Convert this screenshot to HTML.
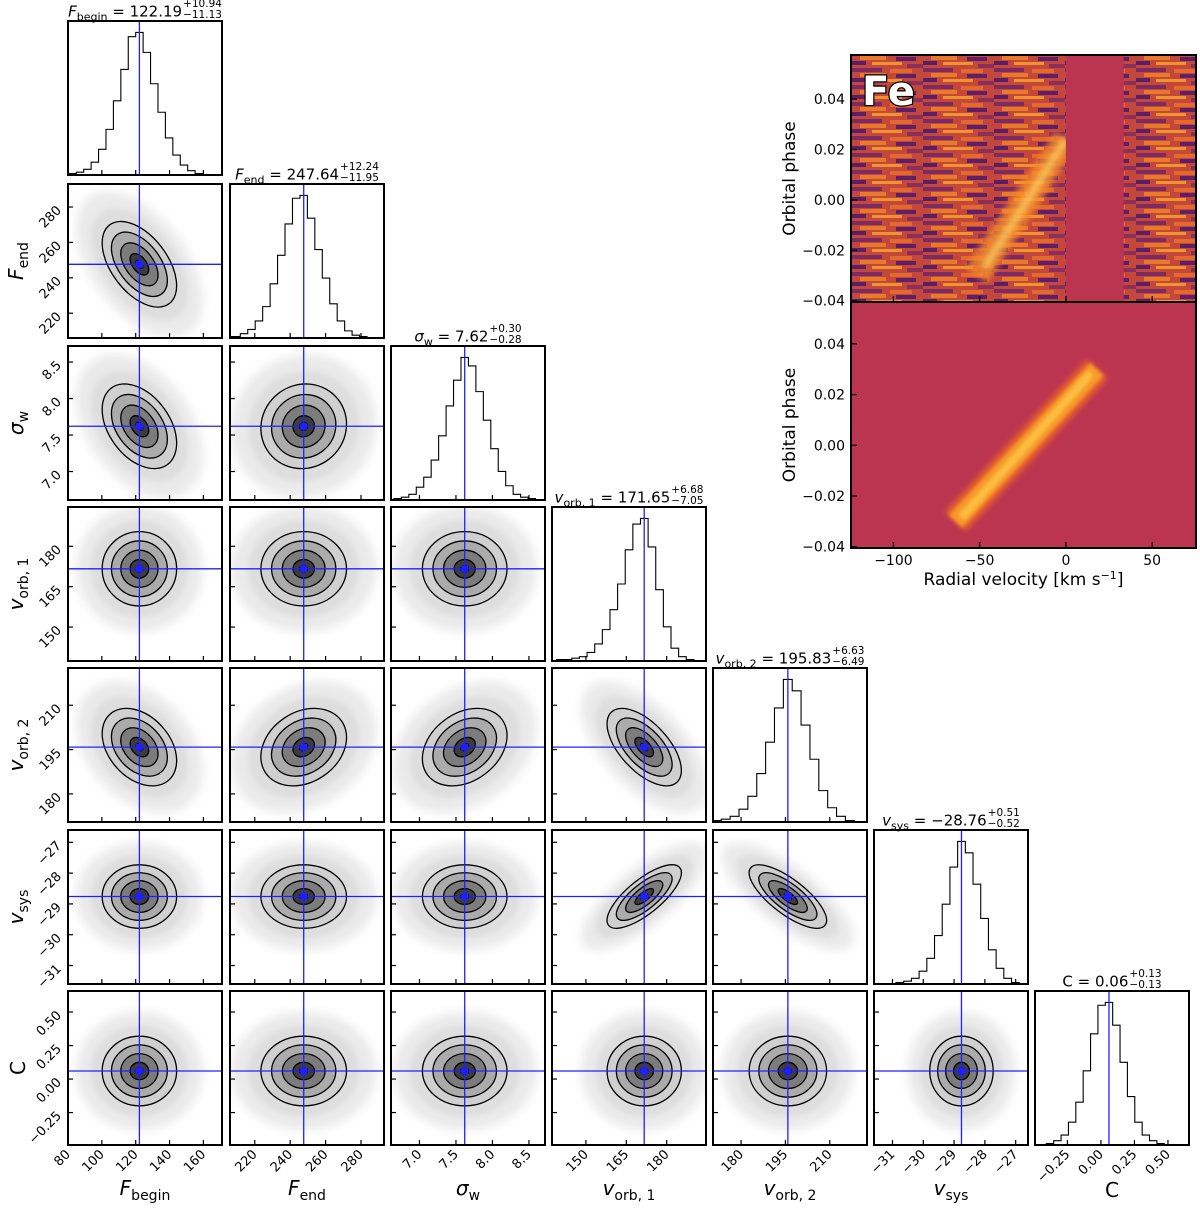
<!DOCTYPE html>
<html><head><meta charset="utf-8">
<style>
body{margin:0;background:#fff;}
#wrap{position:relative;width:1200px;height:1215px;overflow:hidden;font-family:"DejaVu Sans","Liberation Sans",sans-serif;color:#000;}
svg{position:absolute;left:0;top:0;}
.t{position:absolute;white-space:nowrap;font-size:15px;transform:translateX(-50%);line-height:1;}
.ss{display:inline-flex;flex-direction:column;vertical-align:middle;font-size:10.5px;line-height:1.05;margin-left:1px;position:relative;top:-2px;}
.lab{position:absolute;white-space:nowrap;font-size:20px;transform:translate(-50%,-50%);}
.lab sub{font-size:14px;font-style:normal;}
.t sub{font-size:11px;}
</style></head><body>
<div id="wrap">
<svg id="s" width="1200" height="1215"></svg>
</div>
<script>
// ---- data ----
const params=['Fbegin','Fend','sigma_w','v_orb1','v_orb2','v_sys','C'];
const means=[122.19,247.64,7.62,171.65,195.83,-28.76,0.06];
const sds=[11.0,12.1,0.29,6.9,6.55,0.515,0.13];
const lo=[80,206,6.61,137.4,170.5,-31.6,-0.492];
const hi=[171,293,8.72,194.6,222.6,-26.6,0.657];
const ticks=[[80,100,120,140,160],[220,240,260,280],[7.0,7.5,8.0,8.5],[150,165,180],[180,195,210],[-31,-30,-29,-28,-27],[-0.25,0.00,0.25,0.50]];
const tickLabels=[["80","100","120","140","160"],["220","240","260","280"],["7.0","7.5","8.0","8.5"],["150","165","180"],["180","195","210"],["\u221231","\u221230","\u221229","\u221228","\u221227"],["\u22120.25","0.00","0.25","0.50"]];
const corr=[[],[-0.5],[-0.4,0.05],[0.0,0.0,0.0],[-0.35,0.25,0.3,-0.6],[0.0,0.0,0.0,0.75,-0.75],[0,0,0,0,0,0]];
const histLo=[80.5,203.4,6.65,139.1,170.3,-30.885,-0.4075];
const histHi=[159.5,283.4,8.59,190.1,218.3,-26.885,0.4725];
const hFb=[1,2,4,9,18,32,52,74,97,100,86,64,44,26,14,7,3,1];
const hFe=[1,1,3,6,12,22,38,58,80,98,100,84,62,42,24,12,5,2,1];
const hSw=[1,2,4,9,16,28,45,66,84,100,94,76,56,36,20,10,4,2,1];
const hV1=[1,1,2,3,6,12,22,36,54,78,96,100,80,50,24,9,3,1];
const hV2=[1,2,4,9,18,34,56,80,100,92,68,44,22,10,4,1];
const hVs=[1,2,4,9,18,34,56,82,100,92,70,46,24,11,4,1];
const hC=[1,3,7,16,30,52,78,98,100,84,58,34,16,7,3,1];
const hists=[hFb,hFe,hSw,hV1,hV2,hVs,hC];
const plus=["10.94","12.24","0.30","6.68","6.63","0.51","0.13"];
const minus=["11.13","11.95","0.28","7.05","6.49","0.52","0.13"];
const modelV=[-64,18];const modelP=[-0.030,0.030];
const obsV=[-52,0];const obsP=[-0.030,0.024];
const velTicks=[-100,-50,0,50];const phaseTicks=[0.04,0.02,0.00,-0.02,-0.04];
const phaseLabels=["0.04","0.02","0.00","\u22120.02","\u22120.04"];
const maskV=[0,33.5];
// ---- layout ----
const colX=[68,230,391,552,713,874,1035],rowY=[21,184,346,507,668,830,991],S=154;
const NS='http://www.w3.org/2000/svg';
const FF='DejaVu Sans, Liberation Sans, sans-serif';
const svg=document.getElementById('s');const wrap=document.getElementById('wrap');
function el(t,a,p){const e=document.createElementNS(NS,t);for(const k in a)e.setAttribute(k,a[k]);(p||svg).appendChild(e);return e;}
const defs=el('defs',{});
const bl=el('filter',{id:'blur',x:'-50%',y:'-50%',width:'200%',height:'200%'},defs);el('feGaussianBlur',{stdDeviation:'3'},bl);
const bl2=el('filter',{id:'blur2',x:'-50%',y:'-50%',width:'200%',height:'200%'},defs);el('feGaussianBlur',{stdDeviation:'5'},bl2);
const bl1=el('filter',{id:'blur1',x:'-50%',y:'-50%',width:'200%',height:'200%'},defs);el('feGaussianBlur',{stdDeviation:'1.5'},bl1);
function sx(i,c,v){return colX[c]+(v-lo[i])/(hi[i]-lo[i])*S;}
function sy(i,r,v){return rowY[r]+S-(v-lo[i])/(hi[i]-lo[i])*S;}
function html(cls,x,y,h,name){const d=document.createElement('div');d.className=cls;d.style.left=x+'px';d.style.top=y+'px';d.innerHTML=h;


wrap.appendChild(d);return d;}
const sym=['<i>F</i><sub>begin</sub>','<i>F</i><sub>end</sub>','<i>σ</i><sub>w</sub>','<i>v</i><sub>orb, 1</sub>','<i>v</i><sub>orb, 2</sub>','<i>v</i><sub>sys</sub>','C'];
for(let r=0;r<7;r++){for(let c=0;c<=r;c++){
  const g=el('g',{});
  
  
  const cp=el('clipPath',{id:'cp'+r+'_'+c},defs);el('rect',{x:colX[c],y:rowY[r],width:S,height:S},cp);
  const inner=el('g',{'clip-path':'url(#cp'+r+'_'+c+')'},g);
  if(r===c){
    const h=hists[r],n=h.length,mx=Math.max(...h)*1.08;
    let d='';for(let k=0;k<n;k++){const x0=sx(r,c,histLo[r]+(histHi[r]-histLo[r])*k/n),x1=sx(r,c,histLo[r]+(histHi[r]-histLo[r])*(k+1)/n);const y=rowY[r]+S-h[k]/mx*S;d+=(k===0?'M'+x0+','+(rowY[r]+S)+'L'+x0+','+y:'L'+x0+','+y)+'L'+x1+','+y;if(k===n-1)d+='L'+x1+','+(rowY[r]+S);}
    const p=el('path',{d:d,fill:'none',stroke:'#000','stroke-width':1.1},inner);
    
    
    const mx_=sx(r,c,means[r]);el('line',{x1:mx_,x2:mx_,y1:rowY[r],y2:rowY[r]+S,stroke:'#2020ff','stroke-width':1.3},inner);
  } else {
    const cx=sx(c,c,means[c]),cy=sy(r,r,means[r]);
    const px=sds[c]/(hi[c]-lo[c])*S,py=sds[r]/(hi[r]-lo[r])*S,rho=corr[r][c];
    const a=px*px,cc=py*py,b=-rho*px*py;
    const th=0.5*Math.atan2(2*b,a-cc)*180/Math.PI;
    const m=(a+cc)/2,dd=Math.sqrt(((a-cc)/2)**2+b*b);
    const l1=Math.sqrt(m+dd),l2=Math.sqrt(Math.max(m-dd,1e-6));
    const E=(rr,at)=>{at.cx=cx;at.cy=cy;at.rx=rr*l1;at.ry=rr*l2;at.transform='rotate('+th+' '+cx+' '+cy+')';return el('ellipse',at,inner);};
    E(3.4,{fill:'#eaeaea',filter:'url(#blur2)'});
    E(2.6,{fill:'#dedede',filter:'url(#blur)'});
    E(2,{fill:'#d0d0d0'});E(1.5,{fill:'#ababab'});E(1,{fill:'#7c7c7c'});E(0.5,{fill:'#3c3c3c'});
    E(0.22,{fill:'#000'});
    for(const rr of [0.5,1,1.5,2])E(rr,{fill:'none',stroke:'#000','stroke-width':1.3});
    el('line',{x1:cx,x2:cx,y1:rowY[r],y2:rowY[r]+S,stroke:'#2020ff','stroke-width':1.3},inner);
    el('line',{x1:colX[c],x2:colX[c]+S,y1:cy,y2:cy,stroke:'#2020ff','stroke-width':1.3},inner);
    el('rect',{x:cx-3.5,y:cy-3.5,width:7,height:7,fill:'#2020ff'},inner);
  }
  el('rect',{x:colX[c],y:rowY[r],width:S,height:S,fill:'none',stroke:'#000','stroke-width':2},g);
  ticks[c].forEach((t,k)=>{const x=sx(c,c,t);if(x<colX[c]-0.5||x>colX[c]+S+0.5)return;el('line',{x1:x,x2:x,y1:rowY[r]+S,y2:rowY[r]+S-5,stroke:'#000','stroke-width':1.2},g);
    if(r===6){const tx=el('text',{x:x+3,y:rowY[r]+S+10,'font-size':13,'text-anchor':'end',transform:'rotate(-45 '+(x+3)+' '+(rowY[r]+S+10)+')','font-family':FF},g);tx.textContent=tickLabels[c][k];
      
      }});
  if(r!==c){ticks[r].forEach((t,k)=>{const y=sy(r,r,t);if(y<rowY[r]-0.5||y>rowY[r]+S+0.5)return;el('line',{x1:colX[c],x2:colX[c]+5,y1:y,y2:y,stroke:'#000','stroke-width':1.2},g);
    if(c===0){const tx=el('text',{x:colX[0]-6,y:y+4,'font-size':13,'text-anchor':'end',transform:'rotate(-45 '+(colX[0]-6)+' '+(y+4)+')','font-family':FF},g);tx.textContent=tickLabels[r][k];
      
      }});}
}}
const titleVal=["122.19","247.64","7.62","171.65","195.83","\u221228.76","0.06"];
for(let i=0;i<7;i++){
  html('t',colX[i]+S/2,rowY[i]-20,sym[i]+' = '+titleVal[i]+'<span class="ss"><span>+'+plus[i]+'</span><span>\u2212'+minus[i]+'</span></span>','title-'+params[i]);
  html('lab',colX[i]+S/2,1190,sym[i],'x-axis-title-'+params[i]);
  if(i>0){const d=html('lab',18,rowY[i]+S/2,sym[i],'y-axis-title-'+params[i]);d.style.transform='translate(-50%,-50%) rotate(-90deg)';}
}
// ---- Fe panels ----
const HX0=851,HX1=1196,TY0=55,TY1=302,BY0=302,BY1=548;
const vlo=-124.6,vhi=75.4,pTopHi=0.0575,pBotHi=0.0565,plo=-0.0405;
const vx=v=>HX0+(v-vlo)/(vhi-vlo)*(HX1-HX0);
const tpy=p=>TY0+(pTopHi-p)/(pTopHi-plo)*(TY1-TY0);
const bpy=p=>BY0+(pBotHi-p)/(pBotHi-plo)*(BY1-BY0);
const pat=el('pattern',{id:'noise',width:71,height:17,patternUnits:'userSpaceOnUse'},defs);
el('rect',{width:71,height:17,fill:'#c4473c'},pat);
el('rect',{x:0,y:0,width:30,height:4,fill:'#7b2a62'},pat);
el('rect',{x:38,y:1,width:22,height:4,fill:'#e4692c'},pat);
el('rect',{x:8,y:5,width:26,height:4,fill:'#e87a2a'},pat);
el('rect',{x:44,y:6,width:20,height:4,fill:'#5e1f68'},pat);
el('rect',{x:0,y:10,width:14,height:4,fill:'#5a1e66'},pat);
el('rect',{x:20,y:11,width:30,height:3,fill:'#f0952e'},pat);
el('rect',{x:55,y:13,width:16,height:4,fill:'#8a2f5c'},pat);
const topG=el('g',{});


const cpt=el('clipPath',{id:'cpt'},defs);el('rect',{x:HX0,y:TY0,width:HX1-HX0,height:TY1-TY0},cpt);
const tg=el('g',{'clip-path':'url(#cpt)'},topG);
el('rect',{x:HX0,y:TY0,width:HX1-HX0,height:TY1-TY0,fill:'url(#noise)'},tg);
el('line',{x1:vx(obsV[0]),y1:tpy(obsP[0]),x2:vx(obsV[1]),y2:tpy(obsP[1]),stroke:'#f58a2a','stroke-width':26,filter:'url(#blur)',opacity:0.8},tg);
el('line',{x1:vx(obsV[0])+8,y1:tpy(obsP[0])-8,x2:vx(obsV[1]),y2:tpy(obsP[1]),stroke:'#fbd060','stroke-width':8,filter:'url(#blur)',opacity:0.75},tg);
el('rect',{x:vx(maskV[0]),y:TY0,width:vx(maskV[1])-vx(maskV[0]),height:TY1-TY0,fill:'#bc3550'},tg);
const fe=el('text',{x:HX0+11,y:TY0+50,'font-size':40,'font-weight':'bold',fill:'#fff',stroke:'#000','stroke-width':2.5,'paint-order':'stroke','font-family':FF},topG);fe.textContent='Fe';


el('rect',{x:HX0,y:TY0,width:HX1-HX0,height:TY1-TY0,fill:'none',stroke:'#000','stroke-width':2},topG);
const botG=el('g',{});


const cpb=el('clipPath',{id:'cpb'},defs);el('rect',{x:HX0,y:BY0,width:HX1-HX0,height:BY1-BY0},cpb);
const bg=el('g',{'clip-path':'url(#cpb)'},botG);
el('rect',{x:HX0,y:BY0,width:HX1-HX0,height:BY1-BY0,fill:'#bc3550'},bg);
el('line',{x1:vx(modelV[0]),y1:bpy(modelP[0]),x2:vx(modelV[1]),y2:bpy(modelP[1]),stroke:'#e8622c','stroke-width':28,filter:'url(#blur)'},bg);
el('line',{x1:vx(modelV[0]),y1:bpy(modelP[0]),x2:vx(modelV[1]),y2:bpy(modelP[1]),stroke:'#f79a2a','stroke-width':18,filter:'url(#blur1)'},bg);
el('line',{x1:vx(modelV[0])+6,y1:bpy(modelP[0])-4,x2:vx(modelV[1])-6,y2:bpy(modelP[1])+4,stroke:'#fcbd40','stroke-width':8,filter:'url(#blur1)'},bg);
el('rect',{x:HX0,y:BY0,width:HX1-HX0,height:BY1-BY0,fill:'none',stroke:'#000','stroke-width':2},botG);
velTicks.forEach(v=>{const x=vx(v);for(const yy of [TY1,BY1]){el('line',{x1:x,x2:x,y1:yy,y2:yy-6,stroke:'#000','stroke-width':1.2},botG);}
  const t=el('text',{x:x,y:BY1+17,'font-size':14,'text-anchor':'middle','font-family':FF},botG);t.textContent=(v<0?'\u2212':'')+Math.abs(v);
  
  });
phaseTicks.forEach((p,k)=>{for(const f of [tpy,bpy]){const y=f(p);el('line',{x1:HX0,x2:HX0+6,y1:y,y2:y,stroke:'#000','stroke-width':1.2},botG);
  const t=el('text',{x:HX0-6,y:y+5,'font-size':14,'text-anchor':'end','font-family':FF},botG);t.textContent=phaseLabels[k];
  
  }});
for(const [yc,nm] of [[(TY0+TY1)/2,'top'],[(BY0+BY1)/2,'bottom']]){const t=el('text',{x:795,y:yc,'font-size':17,'text-anchor':'middle',transform:'rotate(-90 795 '+yc+')','font-family':FF},botG);t.textContent='Orbital phase';
  
  }
const xt=el('text',{x:(HX0+HX1)/2,y:585,'font-size':17,'text-anchor':'middle','font-family':FF},botG);
xt.innerHTML='Radial velocity [km s<tspan dy="-6" font-size="11">\u22121</tspan><tspan dy="6">]</tspan>';


</script>
</body></html>
